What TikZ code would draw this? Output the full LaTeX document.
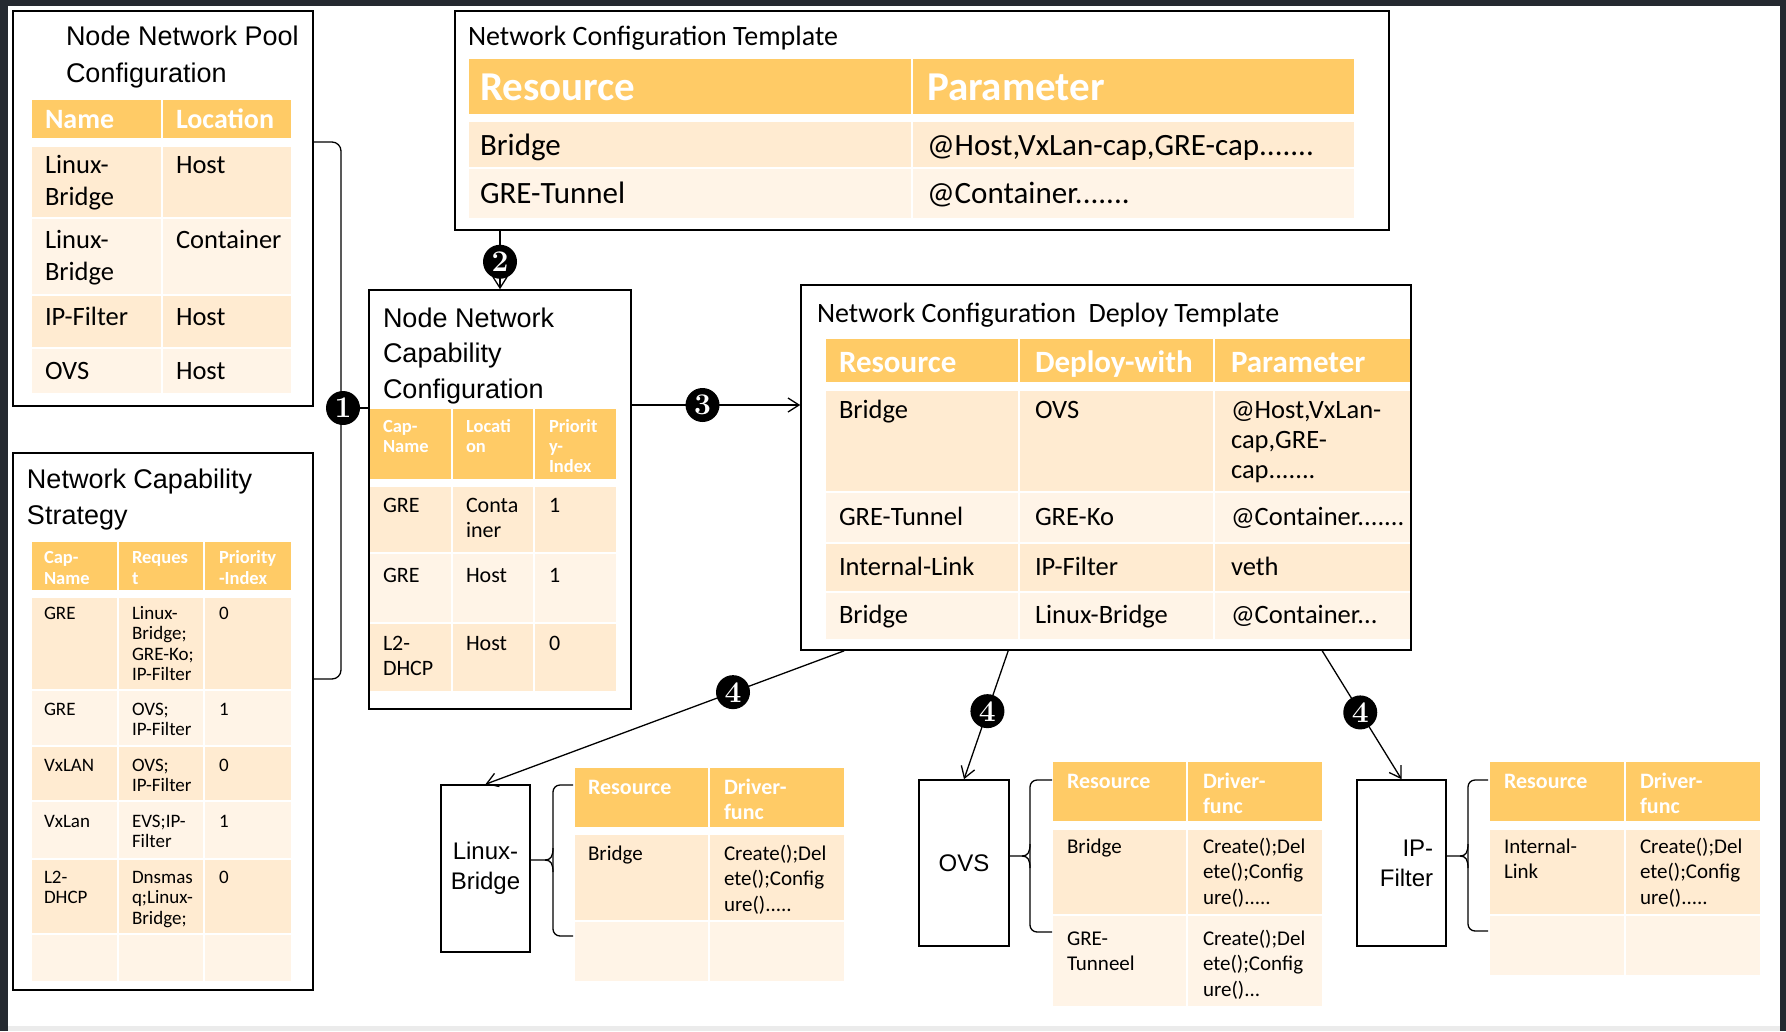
\documentclass[tikz,border=0pt]{standalone}
\usepackage{fontspec}
\newfontfamily\cf{Carlito}
\newfontfamily\af{Liberation Sans}
\usetikzlibrary{arrows.meta}
\definecolor{hdr}{RGB}{255,203,102}
\definecolor{rowa}{RGB}{255,235,209}
\definecolor{rowb}{RGB}{255,244,231}
\definecolor{framec}{RGB}{37,41,48}
\newcommand\hf{\cf\bfseries\color{white}}
\newcommand\mytxt[7]{\node[inner sep=0pt,outer sep=0pt,anchor=north west,align=left,font={#6\fontsize{#4pt}{#5pt}\selectfont}] (#1) at (#2,{#3-0.95*#4}) {\rule{0pt}{0.95\dimexpr#4pt\relax}#7};}
\newcommand\tcells[4]{\foreach \a/\b in {#4} {\fill[#1] (\a+1,#2+1) rectangle (\b-1,#3-1);}}
\begin{document}
\begin{tikzpicture}[x=1pt,y=-1pt,
  box/.style={draw=black,line width=1.6pt,inner sep=0pt,rectangle},
  conn/.style={line width=1.3pt},
  arr/.style={conn,-{Straight Barb[length=11pt,width=14pt]}},
  num/.style={circle,fill=black,text=white,inner sep=0pt,minimum size=34pt,font=\bfseries\fontsize{30pt}{30pt}\selectfont},
  lbl/.style={box,font=\af\fontsize{24pt}{30pt}\selectfont}]
\useasboundingbox (0,0) rectangle (1786,1031);
% background frame
\fill[framec] (0,0) rectangle (1786,1031);
\fill[white] (8,6) rectangle (1780,1026);
\fill[black!8] (8,1026) rectangle (1780,1031);

% ---------- Table 1: Node Network Pool Configuration
\tcells{hdr}{99}{139}{31/162,162/292}
\tcells{rowa}{146}{218}{31/162,162/292}
\tcells{rowb}{218}{295}{31/162,162/292}
\tcells{rowa}{295}{348}{31/162,162/292}
\tcells{rowb}{348}{394}{31/162,162/292}
\mytxt{p0}{66}{45}{27}{37}{\af}{Node Network Pool\\Configuration}
\mytxt{p1}{45}{128}{28}{30}{\hf}{Name}
\mytxt{p2}{176}{128}{28}{30}{\hf}{Location}
\mytxt{p3}{45}{173}{26.5}{32}{\cf}{Linux-\\Bridge}
\mytxt{p4}{176}{173}{26.5}{32}{\cf}{Host}
\mytxt{p5}{45}{248}{26.5}{32}{\cf}{Linux-\\Bridge}
\mytxt{p6}{176}{248}{26.5}{32}{\cf}{Container}
\mytxt{p7}{45}{325}{26.5}{32}{\cf}{IP-Filter}
\mytxt{p8}{176}{325}{26.5}{32}{\cf}{Host}
\mytxt{p9}{45}{379}{26.5}{32}{\cf}{OVS}
\mytxt{p10}{176}{379}{26.5}{32}{\cf}{Host}

% ---------- Table 2: Network Capability Strategy
\tcells{hdr}{541}{591}{31/118,118/204,204/292}
\tcells{rowa}{597}{690}{31/118,118/204,204/292}
\tcells{rowb}{690}{746}{31/118,118/204,204/292}
\tcells{rowa}{746}{801}{31/118,118/204,204/292}
\tcells{rowb}{801}{859}{31/118,118/204,204/292}
\tcells{rowa}{859}{934}{31/118,118/204,204/292}
\tcells{rowb}{934}{982}{31/118,118/204,204/292}
\mytxt{s0}{27}{488}{27}{36}{\af}{Network Capability\\Strategy}
\mytxt{s1}{44}{563}{18.5}{21}{\hf}{Cap-\\Name}
\mytxt{s2}{132}{563}{18.5}{21}{\hf}{Reques\\t}
\mytxt{s3}{219}{563}{18.5}{21}{\hf}{Priority\\-Index}
\mytxt{s4}{44}{619}{19}{20.6}{\cf}{GRE}
\mytxt{s5}{132}{619}{19}{20.6}{\cf}{Linux-\\Bridge;\\GRE-Ko;\\IP-Filter}
\mytxt{s6}{219}{619}{19}{20.6}{\cf}{0}
\mytxt{s7}{44}{715}{19}{20.6}{\cf}{GRE}
\mytxt{s8}{132}{715}{19}{20.6}{\cf}{OVS;\\IP-Filter}
\mytxt{s9}{219}{715}{19}{20.6}{\cf}{1}
\mytxt{s10}{44}{771}{19}{20.6}{\cf}{VxLAN}
\mytxt{s11}{132}{771}{19}{20.6}{\cf}{OVS;\\IP-Filter}
\mytxt{s12}{219}{771}{19}{20.6}{\cf}{0}
\mytxt{s13}{44}{827}{19}{20.6}{\cf}{VxLan}
\mytxt{s14}{132}{827}{19}{20.6}{\cf}{EVS;IP-\\Filter}
\mytxt{s15}{219}{827}{19}{20.6}{\cf}{1}
\mytxt{s16}{44}{883}{19}{20.6}{\cf}{L2-\\DHCP}
\mytxt{s17}{132}{883}{19}{20.6}{\cf}{Dnsmas\\q;Linux-\\Bridge;}
\mytxt{s18}{219}{883}{19}{20.6}{\cf}{0}

% ---------- Table 3: Node Network Capability Configuration
\tcells{hdr}{408}{480}{369/452,452/534,534/617}
\tcells{rowa}{486}{553}{369/452,452/534,534/617}
\tcells{rowb}{553}{623}{369/452,452/534,534/617}
\tcells{rowa}{623}{692}{369/452,452/534,534/617}
\mytxt{c0}{383}{327}{27}{35.5}{\af}{Node Network\\Capability\\Configuration}
\mytxt{c1}{383}{432}{18.5}{20}{\hf}{Cap-\\Name}
\mytxt{c2}{466}{432}{18.5}{20}{\hf}{Locati\\on}
\mytxt{c3}{549}{432}{18.5}{20}{\hf}{Priorit\\y-\\Index}
\mytxt{c4}{383}{512}{22}{25}{\cf}{GRE}
\mytxt{c5}{466}{512}{22}{25}{\cf}{Conta\\iner}
\mytxt{c6}{549}{512}{22}{25}{\cf}{1}
\mytxt{c7}{383}{582}{22}{25}{\cf}{GRE}
\mytxt{c8}{466}{582}{22}{25}{\cf}{Host}
\mytxt{c9}{549}{582}{22}{25}{\cf}{1}
\mytxt{c10}{383}{650}{22}{25}{\cf}{L2-\\DHCP}
\mytxt{c11}{466}{650}{22}{25}{\cf}{Host}
\mytxt{c12}{549}{650}{22}{25}{\cf}{0}

% ---------- Table 4: Network Configuration Template
\tcells{hdr}{58}{115}{468/912,912/1355}
\tcells{rowa}{121}{168}{468/912,912/1355}
\tcells{rowb}{168}{219}{468/912,912/1355}
\mytxt{m0}{468}{45}{28}{30}{\cf}{Network Configuration Template}
\mytxt{m1}{480}{100}{41}{44}{\hf}{Resource}
\mytxt{m2}{927}{100}{41}{44}{\hf}{Parameter}
\mytxt{m3}{480}{155}{31}{34}{\cf}{Bridge}
\mytxt{m4}{927}{155}{31}{34}{\cf}{@Host,VxLan-cap,GRE-cap.......}
\mytxt{m5}{480}{203}{31}{34}{\cf}{GRE-Tunnel}
\mytxt{m6}{927}{203}{31}{34}{\cf}{@Container.......}

% ---------- Table 5: Network Configuration Deploy Template
\tcells{hdr}{338}{383}{825/1019,1019/1214,1214/1411}
\tcells{rowa}{390}{492}{825/1019,1019/1214,1214/1411}
\tcells{rowb}{492}{543}{825/1019,1019/1214,1214/1411}
\tcells{rowa}{543}{592}{825/1019,1019/1214,1214/1411}
\tcells{rowb}{592}{640}{825/1019,1019/1214,1214/1411}
\mytxt{d0}{817}{322}{28}{30}{\cf}{Network Configuration\ \ Deploy Template}
\mytxt{d1}{839}{372}{31}{34}{\hf}{Resource}
\mytxt{d2}{1035}{372}{31}{34}{\hf}{Deploy-with}
\mytxt{d3}{1231}{372}{31}{34}{\hf}{Parameter}
\mytxt{d4}{839}{418}{26.5}{30}{\cf}{Bridge}
\mytxt{d5}{1035}{418}{26.5}{30}{\cf}{OVS}
\mytxt{d6}{1231}{418}{26.5}{30}{\cf}{@Host,VxLan-\\cap,GRE-\\cap.......}
\mytxt{d7}{839}{525}{26.5}{30}{\cf}{GRE-Tunnel}
\mytxt{d8}{1035}{525}{26.5}{30}{\cf}{GRE-Ko}
\mytxt{d9}{1231}{525}{26.5}{30}{\cf}{@Container.......}
\mytxt{d10}{839}{575}{26.5}{30}{\cf}{Internal-Link}
\mytxt{d11}{1035}{575}{26.5}{30}{\cf}{IP-Filter}
\mytxt{d12}{1231}{575}{26.5}{30}{\cf}{veth}
\mytxt{d13}{839}{623}{26.5}{30}{\cf}{Bridge}
\mytxt{d14}{1035}{623}{26.5}{30}{\cf}{Linux-Bridge}
\mytxt{d15}{1231}{623}{26.5}{30}{\cf}{@Container...}

% ---------- Small table: Linux-Bridge
\tcells{hdr}{767}{828}{574/709,709/845}
\tcells{rowa}{834}{921}{574/709,709/845}
\tcells{rowb}{921}{982}{574/709,709/845}
\mytxt{l1}{588}{794}{22}{25}{\hf}{Resource}
\mytxt{l2}{724}{794}{22}{25}{\hf}{Driver-\\func}
\mytxt{l3}{588}{860}{21}{25.5}{\cf}{Bridge}
\mytxt{l4}{724}{860}{21}{25.5}{\cf}{Create();Del\\ete();Config\\ure().....}

% ---------- Small table: OVS
\tcells{hdr}{761}{822}{1052/1187,1187/1323}
\tcells{rowa}{829}{915}{1052/1187,1187/1323}
\tcells{rowb}{915}{1007}{1052/1187,1187/1323}
\mytxt{o1}{1067}{788}{22}{25}{\hf}{Resource}
\mytxt{o2}{1203}{788}{22}{25}{\hf}{Driver-\\func}
\mytxt{o3}{1067}{853}{21}{25.5}{\cf}{Bridge}
\mytxt{o4}{1203}{853}{21}{25.5}{\cf}{Create();Del\\ete();Config\\ure().....}
\mytxt{o5}{1067}{945}{21}{25.5}{\cf}{GRE-\\Tunneel}
\mytxt{o6}{1203}{945}{21}{25.5}{\cf}{Create();Del\\ete();Config\\ure()...}

% ---------- Small table: IP-Filter
\tcells{hdr}{761}{822}{1489/1625,1625/1761}
\tcells{rowa}{829}{915}{1489/1625,1625/1761}
\tcells{rowb}{915}{976}{1489/1625,1625/1761}
\mytxt{i1}{1504}{788}{22}{25}{\hf}{Resource}
\mytxt{i2}{1640}{788}{22}{25}{\hf}{Driver-\\func}
\mytxt{i3}{1504}{853}{21}{25.5}{\cf}{Internal-\\Link}
\mytxt{i4}{1640}{853}{21}{25.5}{\cf}{Create();Del\\ete();Config\\ure().....}

% ---------- Boxes
\node[box,minimum width=300pt,minimum height=395pt] (b1) at (163,208.5) {};
\node[box,minimum width=300pt,minimum height=537pt] (b2) at (163,721.5) {};
\node[box,minimum width=262pt,minimum height=419pt] (b3) at (500,499.5) {};
\node[box,minimum width=934pt,minimum height=219pt] (b4) at (922,120.5) {};
\node[box,minimum width=610pt,minimum height=365pt] (b5) at (1106,467.5) {};
\node[lbl,minimum width=89pt,minimum height=167pt,align=center] (lb) at (485.5,868.5) {Linux-\\Bridge};
\node[lbl,minimum width=90pt,minimum height=166pt] (ovs) at (964,863) {OVS};
\node[lbl,minimum width=89pt,minimum height=166pt,align=right] (ipf) at (1401.5,863) {\hspace*{10pt}IP-\\\hspace*{10pt}Filter};

% ---------- Connectors
\coordinate (ya) at (0,142);
\coordinate (yb) at (0,679);
\coordinate (bt) at (341,408);
\draw[conn,rounded corners=9pt] (b1.east |- ya) -- (341,142) -- (341,679) -- (b2.east |- yb);
\draw[conn] (bt) -- (b3.west |- bt);
\node[num] (n1) at (343,408) {1};

\coordinate (c2) at (500,0);
\draw[arr] (b4.south -| c2) -- node[num,pos=0.53] (n2) {2} (b3.north);

\coordinate (c3) at (0,405);
\draw[arr] (b3.east |- c3) -- node[num,pos=0.42] (n3) {3} (b5.west |- c3);

\draw[arr] ([xshift=44pt]b5.south west) -- node[num,pos=0.31] (n4a) {4} (lb.north);
\draw[arr] ([xshift=208pt]b5.south west) -- node[num,pos=0.47] (n4b) {4} (ovs.north);
\draw[arr] ([xshift=522pt]b5.south west) -- node[num,pos=0.48] (n4c) {4} (ipf.north);

% ---------- Braces to the driver tables
\coordinate (lt) at (573,785); \coordinate (lbt) at (553,860); \coordinate (lbb) at (573,936);
\draw[conn,rounded corners=7pt] (lt) -- (553,785) -- (553,936) -- (lbb);
\draw[conn] (lb.east |- lbt) -- (545,860) .. controls (551,860) and (553,856) .. (553,848);
\draw[conn] (545,860) .. controls (551,860) and (553,864) .. (553,872);

\coordinate (ot) at (1052,780); \coordinate (obt) at (1030,856); \coordinate (obb) at (1052,932);
\draw[conn,rounded corners=7pt] (ot) -- (1030,780) -- (1030,932) -- (obb);
\draw[conn] (ovs.east |- obt) -- (1022,856) .. controls (1028,856) and (1030,852) .. (1030,844);
\draw[conn] (1022,856) .. controls (1028,856) and (1030,860) .. (1030,868);

\coordinate (it) at (1488,780); \coordinate (ibt) at (1468,856); \coordinate (ibb) at (1488,931);
\draw[conn,rounded corners=7pt] (it) -- (1468,780) -- (1468,931) -- (ibb);
\draw[conn] (ipf.east |- ibt) -- (1460,856) .. controls (1466,856) and (1468,852) .. (1468,844);
\draw[conn] (1460,856) .. controls (1466,856) and (1468,860) .. (1468,868);
\end{tikzpicture}
\end{document}
